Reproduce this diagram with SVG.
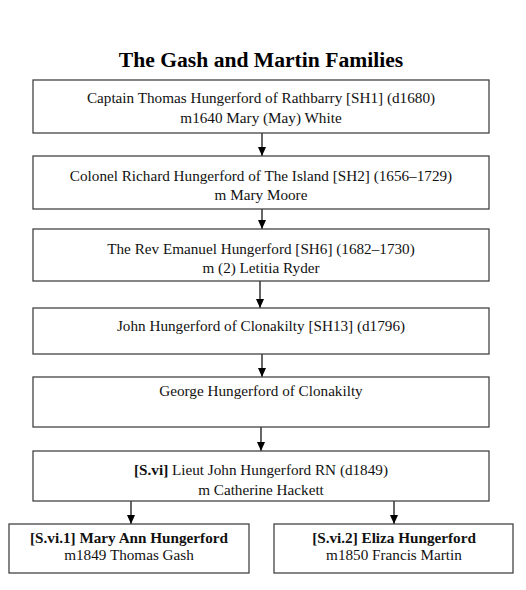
<svg xmlns="http://www.w3.org/2000/svg" width="526" height="590" viewBox="0 0 526 590">
<defs>
<marker id="ah" markerWidth="9" markerHeight="8" refX="9" refY="4" orient="auto" markerUnits="userSpaceOnUse" viewBox="0 0 9 8">
<path d="M0,0 L9,4 L0,8 Z" fill="#000"/>
</marker>
<style>
.box{fill:#fff;stroke:#444;stroke-width:1.3}
.t{font-family:"Liberation Serif","Times New Roman",serif;font-size:15.2px;fill:#111;text-anchor:middle}
.b{font-weight:bold}
.title{font-family:"Liberation Serif","Times New Roman",serif;font-size:21.6px;font-weight:bold;fill:#000;text-anchor:middle}
.c{stroke:#000;stroke-width:1.2;fill:none;marker-end:url(#ah)}
</style>
</defs>
<rect width="526" height="590" fill="#fff"/>
<text class="title" x="261" y="67">The Gash and Martin Families</text>
<g id="connectors">
<path class="c" d="M262,133 V156"/>
<path class="c" d="M262,209 V229"/>
<path class="c" d="M260,281 V308"/>
<path class="c" d="M262,354 V377"/>
<path class="c" d="M261,427 V451"/>
<path class="c" d="M131,501 V524"/>
<path class="c" d="M394,501 V524"/>
</g>
<g id="n1">
<rect class="box" x="33" y="80" width="456" height="53"/>
<text class="t" x="261" y="103">Captain Thomas Hungerford of Rathbarry [SH1] (d1680)</text>
<text class="t" x="261" y="123">m1640 Mary (May) White</text>
</g>
<g id="n2">
<rect class="box" x="33" y="156" width="456" height="53"/>
<text class="t" x="261" y="181">Colonel Richard Hungerford of The Island [SH2] (1656–1729)</text>
<text class="t" x="261" y="200">m Mary Moore</text>
</g>
<g id="n3">
<rect class="box" x="33" y="229" width="456" height="52"/>
<text class="t" x="261" y="254">The Rev Emanuel Hungerford [SH6] (1682–1730)</text>
<text class="t" x="261" y="273">m (2) Letitia Ryder</text>
</g>
<g id="n4">
<rect class="box" x="33" y="308" width="456" height="46"/>
<text class="t" x="261" y="331">John Hungerford of Clonakilty [SH13] (d1796)</text>
</g>
<g id="n5">
<rect class="box" x="33" y="377" width="456" height="50"/>
<text class="t" x="261" y="396">George Hungerford of Clonakilty</text>
</g>
<g id="n6">
<rect class="box" x="33" y="451" width="456" height="50"/>
<text class="t" x="261" y="475"><tspan class="b">[S.vi]</tspan> Lieut John Hungerford RN (d1849)</text>
<text class="t" x="261" y="495">m Catherine Hackett</text>
</g>
<g id="n7">
<rect class="box" x="9" y="524" width="240" height="49"/>
<text class="t b" x="129" y="543">[S.vi.1] Mary Ann Hungerford</text>
<text class="t" x="129" y="560">m1849 Thomas Gash</text>
</g>
<g id="n8">
<rect class="box" x="274" y="524" width="239" height="49"/>
<text class="t b" x="394" y="543">[S.vi.2] Eliza Hungerford</text>
<text class="t" x="394" y="560">m1850 Francis Martin</text>
</g>
</svg>
